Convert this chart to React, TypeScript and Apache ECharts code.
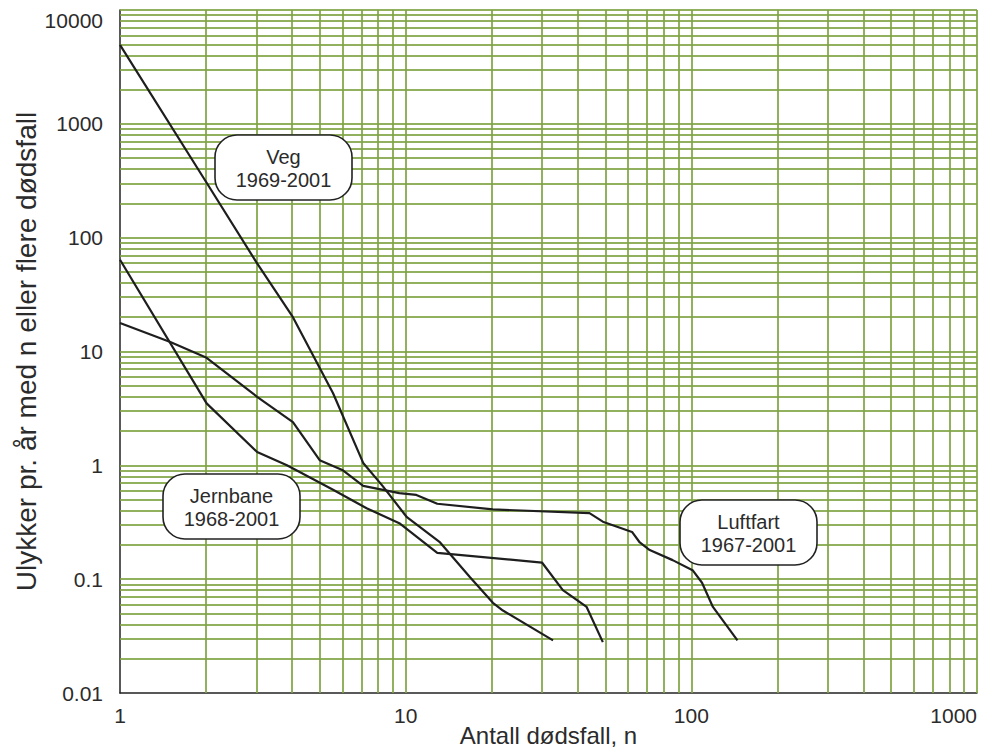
import React, { useEffect, useRef } from "react";
import * as echarts from "echarts";

// Veg 1969-2001
const vegN = [1, 2, 3, 4.03, 5.57, 7.1, 8.3, 10.1, 13.2, 16.8, 20.2, 21.9, 32.8];
const vegRate = [4940, 310, 61, 20, 4.3, 1.05, 0.66, 0.35, 0.21, 0.104, 0.062, 0.053, 0.029];

// Jernbane 1968-2001
const jernN = [1, 2.01, 3.02, 3.84, 5.57, 7.3, 9.5, 12.9, 30, 35.5, 43, 49];
const jernRate = [64, 3.5, 1.31, 1.0, 0.61, 0.42, 0.31, 0.17, 0.14, 0.08, 0.057, 0.028];

// Luftfart 1967-2001
const luftN = [1, 1.5, 2.01, 3.02, 4.03, 5.0, 6.0, 7.1, 9.5, 10.9, 12.9, 20.2, 44, 49, 62, 66, 71.5, 86, 101, 109, 119, 145];
const luftRate = [17.8, 12.1, 8.8, 4.0, 2.4, 1.11, 0.91, 0.66, 0.57, 0.55, 0.46, 0.41, 0.38, 0.32, 0.26, 0.21, 0.18, 0.147, 0.12, 0.093, 0.057, 0.029];

// grid lines (log-paper)
const xGridValues = [2, 3, 4, 5, 6, 7, 8, 9, 10, 20, 30, 40, 50, 60, 70, 80, 90, 100, 200, 300, 400, 500, 600, 700, 800, 900, 1000];
const yGridValues = [
  0.02, 0.03, 0.04, 0.05, 0.06, 0.07, 0.08, 0.09, 0.1,
  0.2, 0.3, 0.4, 0.5, 0.6, 0.7, 0.8, 0.9, 1,
  2, 3, 4, 5, 6, 7, 8, 9, 10,
  20, 30, 40, 50, 60, 70, 80, 90, 100,
  200, 300, 400, 500, 600, 700, 800, 900, 1000,
  2000, 3000, 4000, 5000, 6000, 7000, 8000, 9000, 10000,
];

const xMin = 1;
const xMax = 1000;
const yMin = 0.01;
const yMax = 10000;

const seriesNames = ["Veg", "Jernbane", "Luftfart"];
const boxLabels = ["Veg\n1969-2001", "Jernbane\n1968-2001", "Luftfart\n1967-2001"];

const FONT = '"Liberation Sans", Arial, sans-serif';
const TEXT = "#2b2b2b";
const GRIDC = "#7fa343";

const zip = (a: number[], b: number[]) => a.map((v, i) => [v, b[i]]);

function labelBox(x: number, y: number, text: string) {
  return {
    type: "group",
    x,
    y,
    z: 100,
    children: [
      {
        type: "rect",
        z: 100,
        shape: { x: 0, y: 0, width: 137, height: 65, r: 22 },
        style: { fill: "#ffffff", stroke: "#222222", lineWidth: 1.6 },
      },
      {
        type: "text",
        z: 101,
        style: {
          text,
          x: 68.5,
          y: 33,
          align: "center",
          verticalAlign: "middle",
          fontSize: 20,
          fontFamily: FONT,
          lineHeight: 23,
          fill: TEXT,
        },
      },
    ],
  };
}

export default function App() {
  const ref = useRef<HTMLDivElement>(null);

  useEffect(() => {
    if (!ref.current) return;
    const chart = echarts.init(ref.current, undefined, { renderer: "svg" });
    const fmt = (v: number) => String(Number(v.toPrecision(6)));
    const lineStyleCurve = { color: "#1e1e1e", width: 2.2 };

    chart.setOption({
      animation: false,
      backgroundColor: "#ffffff",
      grid: {
        left: 120,
        right: 12,
        top: 10,
        bottom: 55,
        containLabel: false,
        outerBoundsMode: "none",
      },
      xAxis: {
        type: "log",
        logBase: 10,
        min: xMin,
        max: xMax,
        name: "Antall dødsfall, n",
        nameLocation: "middle",
        nameGap: 30,
        nameMoveOverlap: false,
        nameTextStyle: {
          fontSize: 24,
          fontFamily: FONT,
          color: TEXT,
          verticalAlign: "top",
          lineHeight: 24,
        },
        axisLine: { show: true, lineStyle: { color: "#222222", width: 1.5 } },
        axisTick: { show: false },
        splitLine: { show: false },
        minorTick: { show: false },
        axisLabel: {
          fontSize: 21,
          fontFamily: FONT,
          color: TEXT,
          margin: 12,
          formatter: fmt,
          alignMaxLabel: "right",
        },
      },
      yAxis: {
        type: "log",
        logBase: 10,
        min: yMin,
        max: yMax,
        name: "Ulykker pr. år med n eller flere dødsfall",
        nameLocation: "middle",
        nameGap: 80,
        nameMoveOverlap: false,
        nameRotate: 90,
        nameTextStyle: { fontSize: 28, fontFamily: FONT, color: TEXT },
        axisLine: { show: true, lineStyle: { color: "#222222", width: 1.5 } },
        axisTick: { show: false },
        splitLine: { show: false },
        axisLabel: {
          fontSize: 21,
          fontFamily: FONT,
          color: TEXT,
          margin: 17,
          formatter: fmt,
          verticalAlignMaxLabel: "top",
        },
      },
      series: [
        {
          type: "line",
          name: "grid",
          data: [],
          silent: true,
          z: 1,
          markLine: {
            silent: true,
            symbol: "none",
            label: { show: false },
            lineStyle: { color: GRIDC, width: 2, type: "solid", opacity: 0.85 },
            data: [
              ...xGridValues.map((v) => ({ xAxis: v })),
              ...yGridValues.map((v) => ({ yAxis: v })),
            ],
          },
        },
        {
          type: "line",
          name: seriesNames[0],
          data: zip(vegN, vegRate),
          showSymbol: false,
          symbol: "none",
          lineStyle: lineStyleCurve,
          z: 5,
        },
        {
          type: "line",
          name: seriesNames[1],
          data: zip(jernN, jernRate),
          showSymbol: false,
          symbol: "none",
          lineStyle: lineStyleCurve,
          z: 5,
        },
        {
          type: "line",
          name: seriesNames[2],
          data: zip(luftN, luftRate),
          showSymbol: false,
          symbol: "none",
          lineStyle: lineStyleCurve,
          z: 5,
        },
      ],
      graphic: [
        labelBox(215, 135, boxLabels[0]),
        labelBox(163, 474, boxLabels[1]),
        labelBox(680, 500, boxLabels[2]),
      ],
    });

    return () => chart.dispose();
  }, []);

  return (
    <div
      ref={ref}
      style={{ position: "absolute", left: 0, top: 0, width: 989, height: 748 }}
    />
  );
}
